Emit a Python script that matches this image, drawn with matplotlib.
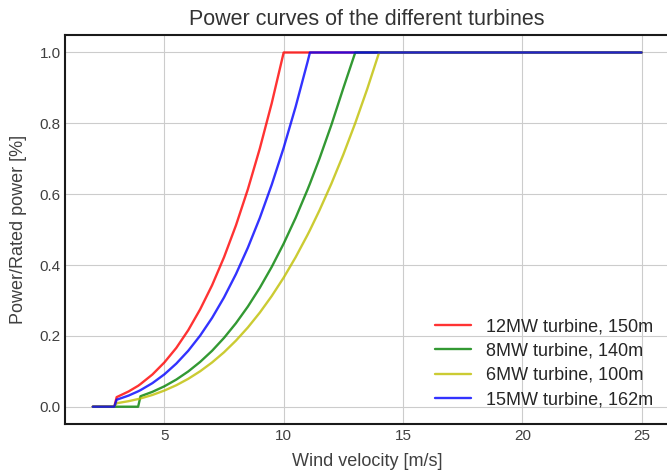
import numpy as np
import matplotlib.pyplot as plt

# Velocidades do vento [m/s]
wind = [2, 2.5, 2.9, 3, 3.5, 3.9, 4, 4.5, 5, 5.5, 6, 6.5, 7, 7.5, 8, 8.5, 9, 9.5,
        10, 10.5, 11, 11.1, 11.5, 12, 12.5, 13, 13.5, 14, 15, 20, 25]

# Potência / potência nominal
p_12mw = [0, 0, 0, 0.027, 0.043, 0.059, 0.064, 0.091, 0.125, 0.166, 0.216, 0.275,
          0.343, 0.422, 0.512, 0.614, 0.729, 0.857,
          1.0, 1.0, 1.0, 1.0, 1.0, 1.0, 1.0, 1.0, 1.0, 1.0, 1.0, 1.0, 1.0]
p_8mw = [0, 0, 0, 0, 0, 0, 0.0295, 0.042, 0.0576, 0.0766, 0.0995, 0.1265,
         0.1579, 0.1943, 0.2358, 0.2828, 0.3357, 0.3948,
         0.4605, 0.533, 0.6129, 0.6297, 0.7003, 0.7957, 0.8993, 1.0, 1.0, 1.0, 1.0, 1.0, 1.0]
p_6mw = [0, 0, 0, 0.0098, 0.0156, 0.0216, 0.0233, 0.0332, 0.0456, 0.0606, 0.0787, 0.1001,
         0.125, 0.1537, 0.1866, 0.2238, 0.2657, 0.3125,
         0.3644, 0.4219, 0.4851, 0.4984, 0.5543, 0.6297, 0.7118, 0.8007, 0.8966, 1.0, 1.0, 1.0, 1.0]
p_15mw = [0, 0, 0, 0.0197, 0.0314, 0.0434, 0.0468, 0.0666, 0.0914, 0.1217, 0.1579, 0.2008,
          0.2508, 0.3085, 0.3744, 0.4491, 0.533, 0.6269,
          0.7312, 0.8465, 0.9732, 1.0, 1.0, 1.0, 1.0, 1.0, 1.0, 1.0, 1.0, 1.0, 1.0]

plt.style.use('seaborn-v0_8-white')
plt.rcParams['font.family'] = ['Liberation Sans', 'DejaVu Sans']

fig = plt.figure(figsize=(6.67, 4.70), dpi=100)
ax = fig.add_axes([0.098, 0.097, 0.905, 0.829])

ax.plot(wind, p_12mw, 'r', alpha=0.8, linewidth=1.7, label='12MW turbine, 150m')
ax.plot(wind, p_8mw, 'g', alpha=0.8, linewidth=1.7, label='8MW turbine, 140m')
ax.plot(wind, p_6mw, 'y', alpha=0.8, linewidth=1.7, label='6MW turbine, 100m')
ax.plot(wind, p_15mw, 'b', alpha=0.8, linewidth=1.7, label='15MW turbine, 162m')

ax.set_title('Power curves of the different turbines', fontsize=15.5, pad=7, color='0.2')
ax.set_xlabel('Wind velocity [m/s]', fontsize=13, labelpad=7, color='0.25')
ax.set_ylabel('Power/Rated power [%]', fontsize=13, labelpad=9, color='0.25')
ax.tick_params(labelsize=11, labelcolor='0.25')
ax.grid(True)
ax.legend(loc='lower right', fontsize=13, labelspacing=0.4)

for s in ax.spines.values():
    s.set_color('0.1')
    s.set_linewidth(1.5)

fig.savefig('out.png', dpi=100)
